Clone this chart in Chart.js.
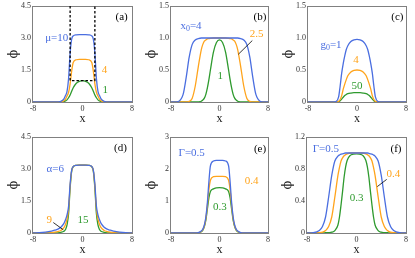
<!DOCTYPE html>
<html><head><meta charset="utf-8">
<script src="https://cdn.jsdelivr.net/npm/chart.js@4.4.0/dist/chart.umd.min.js"></script>
<style>
html,body{margin:0;padding:0;background:#fff;width:415px;height:258px;overflow:hidden;position:relative}
canvas{position:absolute}
</style></head><body>
<canvas id="pa"></canvas><canvas id="pb"></canvas><canvas id="pc"></canvas>
<canvas id="pd"></canvas><canvas id="pe"></canvas><canvas id="pf"></canvas>
<script>
// ---- data ----
const xs = [-8,-7,-6,-5.5,-5,-4.5,-4,-3.5,-3,-2.75,-2.5,-2.25,-2,-1.75,-1.5,-1,-0.5,0,0.5,1,1.5,1.75,2,2.25,2.5,2.75,3,3.5,4,4.5,5,5.5,6,7,8];
const xTicks = [-8,0,8];
const xTickLabels = ['-8','0','8'];

const aBlue   = [0,0,0,0,0,0,0.005,0.03,0.15,0.3,0.5,1.1,2.3,2.95,3.1,3.15,3.16,3.16,3.16,3.15,3.1,2.95,2.3,1.1,0.5,0.3,0.15,0.03,0.005,0,0,0,0,0,0];
const aOrange = [0,0,0,0,0,0,0,0.01,0.06,0.13,0.28,0.45,0.85,1.45,1.85,1.98,2.0,2.0,2.0,1.98,1.85,1.45,0.85,0.45,0.28,0.13,0.06,0.01,0,0,0,0,0,0,0];
const aGreen  = [0,0,0,0,0,0,0,0.005,0.02,0.05,0.1,0.2,0.33,0.5,0.67,0.88,0.97,1.0,0.97,0.88,0.67,0.5,0.33,0.2,0.1,0.05,0.02,0.005,0,0,0,0,0,0,0];
const aBoxX = [-2,-2,2,2];
const aBoxY = [4.5,1,1,4.5];
const aYTicks = [0,1.5,3,4.5];
const aYTickLabels = ['0','1.5','3.0','4.5'];

const bBlue   = [0,0.003,0.12,0.38,0.7,0.9,0.97,0.99,1,1,1,1,1,1,1,1,1,1,1,1,1,1,1,1,1,1,1,0.99,0.97,0.9,0.7,0.38,0.12,0.003,0];
const bOrange = [0,0,0,0,0.01,0.06,0.25,0.55,0.82,0.9,0.95,0.97,0.985,0.99,0.995,1,1,1,1,1,0.995,0.99,0.985,0.97,0.95,0.9,0.82,0.55,0.25,0.06,0.01,0,0,0,0];
const bGreen  = [0,0,0,0,0,0,0,0.002,0.012,0.03,0.06,0.12,0.22,0.35,0.5,0.78,0.93,0.97,0.93,0.78,0.5,0.35,0.22,0.12,0.06,0.03,0.012,0.002,0,0,0,0,0,0,0];
const bPtrX = [5.41,3.1];
const bPtrY = [0.96,0.745];
const bYTicks = [0,0.5,1,1.5];
const bYTickLabels = ['0','0.5','1.0','1.5'];

const cBlue   = [0,0,0,0,0,0,0,0.005,0.08,0.25,0.45,0.6,0.72,0.82,0.88,0.945,0.972,0.98,0.972,0.945,0.88,0.82,0.72,0.6,0.45,0.25,0.08,0.005,0,0,0,0,0,0,0];
const cOrange = [0,0,0,0,0,0,0,0,0.01,0.04,0.1,0.2,0.28,0.35,0.41,0.47,0.495,0.5,0.495,0.47,0.41,0.35,0.28,0.2,0.1,0.04,0.01,0,0,0,0,0,0,0,0];
const cGreen  = [0,0,0,0,0,0,0,0,0.005,0.02,0.045,0.075,0.1,0.118,0.13,0.14,0.145,0.145,0.145,0.14,0.13,0.118,0.1,0.075,0.045,0.02,0.005,0,0,0,0,0,0,0,0];
const cYTicks = [0,0.5,1,1.5];
const cYTickLabels = ['0','0.5','1.0','1.5'];

const dBlue   = [0.005,0.015,0.04,0.06,0.09,0.13,0.18,0.27,0.45,0.62,0.85,1.25,2.3,2.95,3.12,3.17,3.18,3.18,3.18,3.17,3.12,2.95,2.3,1.25,0.85,0.62,0.45,0.27,0.18,0.13,0.09,0.06,0.04,0.015,0.005];
const dOrange = [0,0,0.005,0.01,0.02,0.04,0.07,0.12,0.25,0.4,0.65,1.1,2.2,2.93,3.11,3.17,3.18,3.18,3.18,3.17,3.11,2.93,2.2,1.1,0.65,0.4,0.25,0.12,0.07,0.04,0.02,0.01,0.005,0,0];
const dGreen  = [0,0,0,0,0,0.005,0.01,0.03,0.08,0.16,0.38,0.9,2.1,2.9,3.1,3.17,3.18,3.18,3.18,3.17,3.1,2.9,2.1,0.9,0.38,0.16,0.08,0.03,0.01,0.005,0,0,0,0,0];
const dPtrX = [-4.72,-3.1];
const dPtrY = [0.49,0.15];
const dYTicks = [0,1.5,3,4.5];
const dYTickLabels = ['0','1.5','3.0','4.5'];

const eBlue   = [0,0,0,0,0,0,0,0.01,0.06,0.12,0.25,0.5,0.95,1.6,2.1,2.25,2.27,2.27,2.27,2.25,2.1,1.6,0.95,0.5,0.25,0.12,0.06,0.01,0,0,0,0,0,0,0];
const eOrange = [0,0,0,0,0,0,0,0.01,0.05,0.1,0.22,0.45,0.85,1.35,1.65,1.76,1.77,1.77,1.77,1.76,1.65,1.35,0.85,0.45,0.22,0.1,0.05,0.01,0,0,0,0,0,0,0];
const eGreen  = [0,0,0,0,0,0,0,0.01,0.04,0.09,0.2,0.4,0.75,1.1,1.3,1.38,1.41,1.42,1.41,1.38,1.3,1.1,0.75,0.4,0.2,0.09,0.04,0.01,0,0,0,0,0,0,0];
const eYTicks = [0,1,2,3];
const eYTickLabels = ['0','1','2','3'];

const fBlue   = [0,0.003,0.03,0.08,0.2,0.45,0.72,0.9,0.96,0.975,0.985,0.99,0.995,1,1,1,1,1,1,1,1,1,0.995,0.99,0.985,0.975,0.96,0.9,0.72,0.45,0.2,0.08,0.03,0.003,0];
const fOrange = [0,0,0.003,0.01,0.03,0.08,0.2,0.45,0.72,0.82,0.9,0.94,0.965,0.98,0.99,1,1,1,1,1,0.99,0.98,0.965,0.94,0.9,0.82,0.72,0.45,0.2,0.08,0.03,0.01,0.003,0,0];
const fGreen  = [0,0,0,0,0.003,0.005,0.01,0.03,0.1,0.2,0.35,0.52,0.7,0.83,0.91,0.97,0.985,0.99,0.985,0.97,0.91,0.83,0.7,0.52,0.35,0.2,0.1,0.03,0.01,0.005,0.003,0,0,0,0];
const fPtrX = [4.88,3.36];
const fPtrY = [0.67,0.58];
const fYTicks = [0,0.4,0.8,1.2];
const fYTickLabels = ['0','0.4','0.8','1.2'];

// ---- styling ----
const BLUE = '#4a6ee0', ORANGE = '#ffa41c', GREEN = '#2e9a2e';
const FONT = '"Liberation Serif", "Times New Roman", serif';
const AXIS = '#808080';

function pts(xv, yv){ return yv.map((y,i)=>({x:xv[i], y:y})); }

function drawRich(ctx, str, cx, cy, size, color){
  const parts = [];
  for (let i=0;i<str.length;i++){
    if (str[i]==='_'){ parts.push({t:str[i+1], sub:true}); i++; }
    else if (parts.length && !parts[parts.length-1].sub) parts[parts.length-1].t += str[i];
    else parts.push({t:str[i], sub:false});
  }
  ctx.fillStyle = color; ctx.textBaseline = 'middle'; ctx.textAlign = 'left';
  let w = 0;
  parts.forEach(p=>{ ctx.font = (p.sub?size*0.72:size)+'px '+FONT; p.w = ctx.measureText(p.t).width; w += p.w; });
  let x = cx - w/2;
  parts.forEach(p=>{ ctx.font = (p.sub?size*0.72:size)+'px '+FONT; ctx.fillText(p.t, x, cy + (p.sub?size*0.3:0)); x += p.w; });
}

const framePlugin = {
  id: 'frame',
  beforeDatasetsDraw(chart){
    const {ctx, chartArea:a} = chart;
    ctx.save();
    ctx.strokeStyle = AXIS; ctx.lineWidth = 1;
    ctx.strokeRect(Math.round(a.left)-0.5, Math.round(a.top)+0.5, Math.round(a.right-a.left)+1, Math.round(a.bottom-a.top));
    ctx.restore();
  },
  afterDatasetsDraw(chart, args, opts){
    const {ctx} = chart;
    const sx = chart.scales.x, sy = chart.scales.y;
    ctx.save();
    (opts.labels||[]).forEach(l=>{
      drawRich(ctx, l.t, sx.getPixelForValue(l.x), sy.getPixelForValue(l.y), l.size||11, l.c);
    });
    ctx.restore();
  }
};

function makePanel(id, left, top, width, ymax, yTicks, yLabels, series, extras, labels){
  const cv = document.getElementById(id);
  const height = 127;
  cv.width = width; cv.height = height;
  cv.style.left = left+'px'; cv.style.top = top+'px';
  cv.style.width = width+'px'; cv.style.height = height+'px';
  const colors = [BLUE, ORANGE, GREEN];
  const datasets = [];
  (extras||[]).forEach(e=>datasets.push({
    data: pts(e.x, e.y), borderColor:'#000', borderWidth: e.w||1, borderDash: e.dash||[],
    pointRadius:0, tension:0, fill:false
  }));
  series.forEach((s,i)=>datasets.push({
    data: pts(xs, s), borderColor: colors[i], borderWidth: 1.3, pointRadius: 0,
    cubicInterpolationMode: 'monotone', fill:false
  }));
  new Chart(cv, {
    type:'line',
    data:{datasets},
    plugins:[framePlugin],
    options:{
      responsive:false, animation:false, devicePixelRatio:1,
      layout:{padding:{top:4,right:6,left:0,bottom:0}},
      plugins:{legend:{display:false}, tooltip:{enabled:false}, frame:{labels}},
      scales:{
        x:{type:'linear', min:-8, max:8,
          grid:{display:false, drawTicks:false}, border:{display:false},
          afterBuildTicks:(sc)=>{ sc.ticks = xTicks.map(v=>({value:v})); },
          afterFit:(sc)=>{ sc.height = 25; },
          ticks:{padding:3, color:'#333', font:{family:FONT, size:8, lineHeight:1}, maxRotation:0,
            callback:(v,i)=>xTickLabels[i]},
          title:{display:true, text:'x', color:'#222', font:{family:FONT, size:12, lineHeight:1}, padding:{top:0,bottom:2}}
        },
        y:{type:'linear', min:0, max:ymax,
          grid:{display:false, drawTicks:false}, border:{display:false},
          afterBuildTicks:(sc)=>{ sc.ticks = yTicks.map(v=>({value:v})); },
          afterFit:(sc)=>{ sc.width = 33; },
          ticks:{padding:2, color:'#333', font:{family:FONT, size:8, lineHeight:1},
            callback:(v,i)=>yLabels[i]},
          title:{display:true, text:'\u03D5', color:'#222', font:{family:'"DejaVu Serif", serif', size:13, lineHeight:1}, padding:{top:7,bottom:0}}
        }
      }
    }
  });
}

makePanel('pa', 0, 0, 138, 4.5, aYTicks, aYTickLabels, [aBlue,aOrange,aGreen],
  [{x:aBoxX, y:aBoxY, dash:[2.5,2], w:1.3}],
  [{t:'\u03BC=10', x:-4.17, y:2.98, c:BLUE},{t:'4', x:3.56, y:1.5, c:ORANGE},{t:'1', x:3.69, y:0.55, c:GREEN},{t:'(a)', x:6.33, y:3.99, c:'#000'}]);
makePanel('pb', 138, 0, 136, 1.5, bYTicks, bYTickLabels, [bBlue,bOrange,bGreen],
  [{x:bPtrX, y:bPtrY, w:0.8}],
  [{t:'x_0=4', x:-4.7, y:1.19, c:BLUE},{t:'2.5', x:6.14, y:1.06, c:ORANGE},{t:'1', x:0.13, y:0.41, c:GREEN},{t:'(b)', x:6.68, y:1.33, c:'#000'}]);
makePanel('pc', 275, 0, 137, 1.5, cYTicks, cYTickLabels, [cBlue,cOrange,cGreen], [],
  [{t:'g_0=1', x:-4.24, y:0.895, c:BLUE},{t:'4', x:-0.16, y:0.65, c:ORANGE},{t:'50', x:0, y:0.25, c:GREEN},{t:'(c)', x:6.6, y:1.33, c:'#000'}]);
makePanel('pd', 0, 131, 138, 4.5, dYTicks, dYTickLabels, [dBlue,dOrange,dGreen],
  [{x:dPtrX, y:dPtrY, w:0.8}],
  [{t:'\u03B1=6', x:-4.39, y:3.0, c:BLUE},{t:'9', x:-5.38, y:0.62, c:ORANGE},{t:'15', x:0.08, y:0.62, c:GREEN},{t:'(d)', x:6.14, y:3.96, c:'#000'}]);
makePanel('pe', 138, 131, 136, 3, eYTicks, eYTickLabels, [eBlue,eOrange,eGreen], [],
  [{t:'\u0393=0.5', x:-4.59, y:2.49, c:BLUE},{t:'0.4', x:5.31, y:1.61, c:ORANGE},{t:'0.3', x:0.08, y:0.8, c:GREEN},{t:'(e)', x:6.68, y:2.62, c:'#000'}]);
makePanel('pf', 274, 131, 138, 1.2, fYTicks, fYTickLabels, [fBlue,fOrange,fGreen],
  [{x:fPtrX, y:fPtrY, w:0.8}],
  [{t:'\u0393=0.5', x:-4.96, y:1.05, c:BLUE},{t:'0.4', x:5.96, y:0.73, c:ORANGE},{t:'0.3', x:0.03, y:0.435, c:GREEN},{t:'(f)', x:6.38, y:1.05, c:'#000'}]);
</script>
</body></html>
